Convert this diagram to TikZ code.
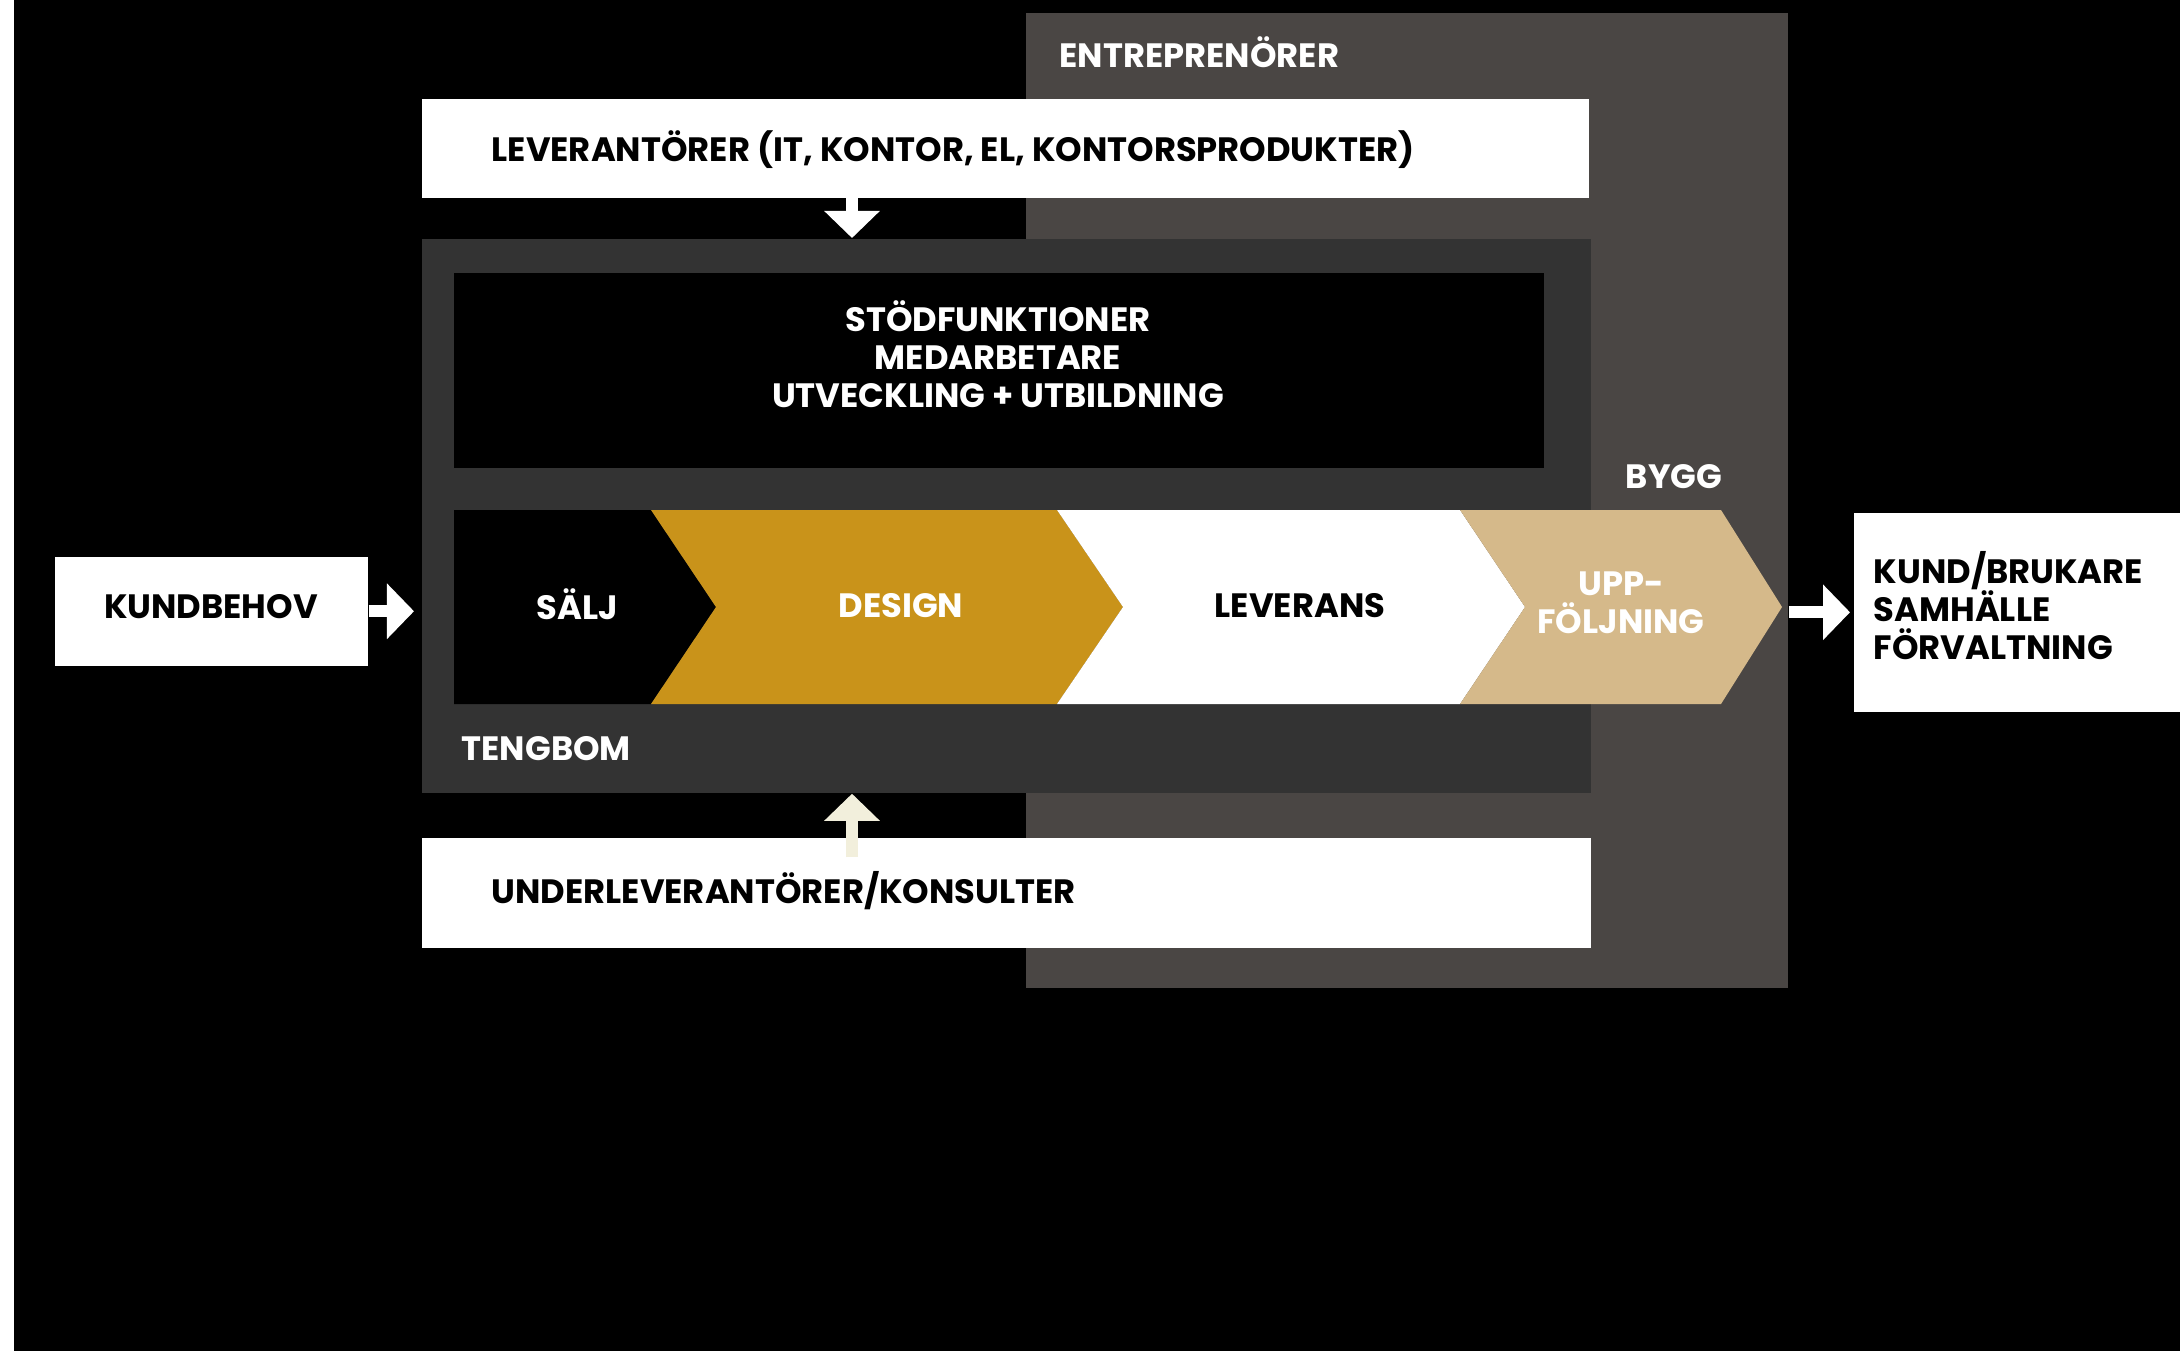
\documentclass[tikz,border=0pt]{standalone}
\usepackage{fontspec}
\setmainfont{Poppins}
\usetikzlibrary{arrows.meta}

\definecolor{entregrey}{HTML}{4A4644}
\definecolor{tengdark}{HTML}{333333}
\definecolor{designgold}{HTML}{C9931A}
\definecolor{uppftan}{HTML}{D5B98A}
\definecolor{arrowcream}{HTML}{F2EFDC}

\begin{document}
\begin{tikzpicture}[x=0.01cm, y=-0.01cm,
  panel/.style={inner sep=0pt, anchor=north west},
  boxtext/.style={inner sep=0pt, font=\bfseries\fontsize{9.6}{10.8}\selectfont},
  blockarrow/.style={line width=0.12cm, -{Triangle[width=0.54cm, length=0.27cm]}}]

\useasboundingbox (0,0) rectangle (2180,1351);
\fill [white] (0,0)  rectangle (2180,1351);
\fill [black] (14,0) rectangle (2180,1351);

% panels
\node [panel, fill=entregrey, minimum width=7.62cm,  minimum height=9.75cm] (entre) at (1025,12)  {};
\node [panel, fill=white,     minimum width=11.67cm, minimum height=0.99cm] (lev)   at (421,98)   {};
\node [panel, fill=tengdark,  minimum width=11.69cm, minimum height=5.54cm] (teng)  at (421,238)  {};
\node [panel, fill=black,     minimum width=10.90cm, minimum height=1.95cm] (stod)  at (453,272)  {};
\node [panel, fill=white,     minimum width=11.69cm, minimum height=1.10cm] (under) at (421,837)  {};
\node [panel, fill=white,     minimum width=3.13cm,  minimum height=1.09cm] (kundbehov) at (54,556) {};
\node [panel, fill=white,     minimum width=3.27cm,  minimum height=1.99cm] (kund)  at (1853,512) {};

% process chevrons
\fill [black]      (454,510)  -- (651,510)  -- (716,607)  -- (651,704)  -- (454,704)  -- cycle;
\fill [designgold] (651,510)  -- (1057,510) -- (1123,607) -- (1057,704) -- (651,704)  -- (716,607)  -- cycle;
\fill [white]      (1057,510) -- (1460,510) -- (1525,607) -- (1460,704) -- (1057,704) -- (1123,607) -- cycle;
\fill [uppftan]    (1460,510) -- (1721,510) -- (1782,607) -- (1721,704) -- (1460,704) -- (1525,607) -- cycle;

% texts
\node [boxtext, white, anchor=base west] (entretext) at (1059,67)  {ENTREPRENÖRER};
\node [boxtext, black, anchor=base west] (levtext)   at (491,161)  {LEVERANTÖRER (IT, KONTOR, EL, KONTORSPRODUKTER)};
\node [boxtext, white, align=center    ] (stodtext)  at (998,354)  {STÖDFUNKTIONER\\MEDARBETARE\\UTVECKLING + UTBILDNING};
\node [boxtext, white                  ] (byggtext)  at (1674,477) {BYGG};
\node [boxtext, white                  ] (salj)      at (577,604)  {SÄLJ};
\node [boxtext, white                  ] (design)    at (901,606)  {DESIGN};
\node [boxtext, black                  ] (leverans)  at (1300,606) {LEVERANS};
\node [boxtext, white, align=center    ] (uppf)      at (1621,603) {UPP-\\FÖLJNING};
\node [boxtext, white, anchor=base west] (tengtext)  at (461,760)  {TENGBOM};
\node [boxtext, black, anchor=base west] (undertext) at (491,903)  {UNDERLEVERANTÖRER/KONSULTER};
\node [boxtext, black                  ] (behovtext) at (211,607)  {KUNDBEHOV};
\node [boxtext, black, anchor=west, align=left] (kundtext) at (1873,606) {KUND/BRUKARE\\SAMHÄLLE\\FÖRVALTNING};

% arrows
\path [draw, blockarrow, white     ] (852,0 |- lev.south) -- (852,0 |- teng.north);
\path [draw, blockarrow, arrowcream, shorten <=-0.2cm] (852,0 |- under.north) -- (852,0 |- teng.south);
\path [draw, blockarrow, white, shorten >=0.07cm] (kundbehov.east) -- (kundbehov.east -| teng.west);
\path [draw, blockarrow, white, shorten >=0.03cm] (entre.east |- kund.west) -- (kund.west);

\end{tikzpicture}
\end{document}
